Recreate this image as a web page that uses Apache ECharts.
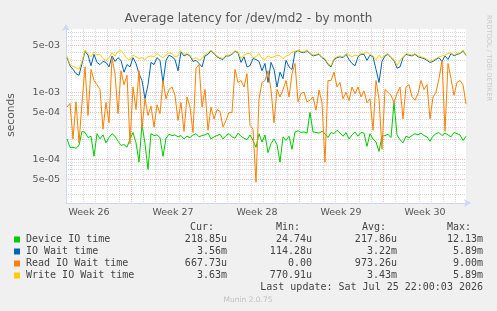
<!DOCTYPE html>
<html>
<head>
<meta charset="utf-8">
<title>Average latency for /dev/md2 - by month</title>
<script src="https://cdn.jsdelivr.net/npm/echarts@6/dist/echarts.min.js"></script>
<style>
  html, body { margin: 0; padding: 0; background: #f0f0f0; }
  #chart { width: 497px; height: 311px; }
</style>
</head>
<body>
<div id="chart"></div>
<script>
// one sample every 6 hours, the last one at the last update
const lastUpdate = Date.UTC(2026, 6, 25, 22, 0, 3);
const stepHours = 6;
const spanHours = 800;

// values in microseconds
const deviceIO = [
  200, 150, 150, 145, 160, 260, 250, 210, 220, 110,
  240, 200, 230, 175, 210, 240, 220, 185, 160, 165,
  150, 200, 250, 175, 90, 330, 170, 70, 240, 225,
  230, 210, 110, 205, 235, 225, 230, 215, 225, 200,
  220, 210, 230, 240, 215, 225, 230, 245, 200, 215,
  225, 235, 200, 225, 240, 215, 205, 245, 220, 205,
  195, 230, 190, 150, 240, 180, 230, 125, 170, 200,
  165, 90, 215, 190, 220, 140, 255, 265, 250, 255,
  245, 500, 255, 250, 245, 260, 240, 210, 250, 240,
  270, 245, 220, 250, 200, 230, 255, 220, 250, 245,
  155, 240, 200, 180, 130, 220, 225, 235, 210, 700,
  230, 195, 175, 220, 210, 225, 240, 230, 245, 225,
  215, 185, 220, 240, 250, 225, 245, 230, 215, 250,
  240, 230, 190, 219
];
const ioWait = [
  3300, 2500, 2200, 1900, 1800, 2700, 4100, 3600, 2500, 3700,
  2800, 2600, 2900, 2800, 2400, 3500, 2900, 3300, 3000, 2000,
  2600, 2400, 3300, 2700, 1900, 1500, 800, 1300, 2800, 2600,
  3300, 3000, 1400, 3000, 3600, 3400, 3100, 2100, 4000, 3500,
  3700, 3500, 2900, 3000, 2700, 2400, 3500, 3700, 4200, 3800,
  3400, 3200, 3100, 3500, 3500, 3700, 4100, 3900, 2800, 3400,
  2400, 2500, 3200, 3100, 2900, 2100, 2700, 1400, 2800, 2200,
  1200, 2000, 1600, 3000, 2400, 2200, 4000, 4200, 4000, 3900,
  4200, 3800, 3500, 3600, 3700, 3300, 3100, 2600, 2400, 3100,
  3300, 3400, 3300, 3700, 3100, 2700, 2500, 3400, 3700, 3700,
  3000, 3600, 3400, 2200, 1400, 2900, 3500, 3700, 3300, 3000,
  2300, 2400, 3300, 3700, 3600, 3500, 3700, 3400, 3300, 3200,
  3000, 2800, 2900, 3100, 3300, 2900, 3500, 3100, 3800, 3500,
  3700, 3800, 4200, 3560
];
const readWait = [
  600, 680, 200, 720, 175, 700, 2400, 450, 2200, 1500,
  1300, 1100, 280, 700, 350, 3300, 1900, 480, 2100, 1300,
  1800, 170, 1200, 550, 2100, 290, 800, 450, 620, 300,
  650, 480, 1500, 800, 1100, 1200, 900, 380, 700, 260,
  850, 600, 250, 2300, 2600, 600, 1100, 270, 600, 400,
  550, 520, 300, 380, 500, 500, 2200, 1400, 1500, 1200,
  1900, 320, 280, 45, 800, 1400, 1500, 2100, 1100, 350,
  1100, 850, 1100, 1500, 850, 1900, 2700, 720, 960, 1000,
  720, 760, 850, 540, 1080, 700, 90, 1500, 1500, 2000,
  1200, 1400, 800, 1000, 750, 1200, 950, 1200, 850, 1050,
  700, 800, 270, 1500, 800, 140, 1100, 1000, 900, 700,
  960, 1200, 400, 1200, 1300, 860, 760, 950, 1500, 1100,
  1300, 400, 850, 1000, 1600, 3000, 260, 2700, 1600, 900,
  1400, 1500, 1300, 668
];
const writeWait = [
  3500, 2600, 2450, 2350, 2200, 2900, 4300, 3800, 3400, 4000,
  3600, 3700, 3200, 3000, 3300, 3900, 3500, 4100, 4200, 3700,
  3200, 3050, 3600, 3400, 3200, 3300, 3100, 3400, 3500, 3400,
  3800, 3500, 3300, 3600, 3900, 3800, 3400, 3500, 4200, 3700,
  3800, 3600, 3100, 3300, 3000, 3200, 3700, 3900, 4300, 3900,
  3500, 3300, 3200, 3600, 3600, 3800, 4200, 4000, 3200, 3600,
  3800, 3800, 3300, 3400, 3800, 3200, 3100, 3500, 3300, 3400,
  3600, 3500, 3200, 3500, 3600, 4000, 4100, 4300, 4100, 4000,
  4300, 3900, 3600, 3700, 3800, 3400, 3200, 2700, 2500, 3200,
  3400, 3500, 3400, 3800, 3600, 3400, 3600, 3500, 3800, 3800,
  4000, 3700, 3500, 3050, 3600, 3200, 3600, 3800, 3400, 3100,
  2500, 3000, 3400, 3800, 3700, 3600, 3800, 3500, 3400, 3300,
  3100, 2900, 3000, 3200, 3400, 3500, 3600, 3800, 3900, 3600,
  3800, 3900, 4300, 3630
];

const seriesNames = ['Device IO time', 'IO Wait time', 'Read IO Wait time', 'Write IO Wait time'];
const seriesColors = ['#00cc00', '#0066b3', '#ff8000', '#ffcc00'];

const statHeaders = ['Cur:', 'Min:', 'Avg:', 'Max:'];
const statRows = [
  ['218.85u', '24.74u', '217.86u', '12.13m'],
  ['3.56m', '114.28u', '3.22m', '5.89m'],
  ['667.73u', '0.00', '973.26u', '9.00m'],
  ['3.63m', '770.91u', '3.43m', '5.89m']
];

const yMin = 2.2e-5;
const yMax = 8.86e-3;
const yTickValues = [5e-5, 1e-4, 5e-4, 1e-3, 5e-3];
const yTickLabels = ['5e-05', '1e-04', '5e-04', '1e-03', '5e-03'];

const weekLabels = ['Week 26', 'Week 27', 'Week 28', 'Week 29', 'Week 30'];
const weekStarts = [
  Date.UTC(2026, 5, 21), Date.UTC(2026, 5, 28), Date.UTC(2026, 6, 5),
  Date.UTC(2026, 6, 12), Date.UTC(2026, 6, 19)
];

const HOUR = 3600000;
const DAY = 24 * HOUR;
const xMax = lastUpdate;
const xMin = lastUpdate - spanHours * HOUR;

function withTime(values) {
  const n = values.length;
  return values.map((v, i) => [lastUpdate - (n - 1 - i) * stepHours * HOUR, v / 1e6]);
}

const weekMids = weekStarts.map(t => t + 3.5 * DAY);
const dayLines = [];
for (let t = Math.ceil(xMin / DAY) * DAY; t <= xMax; t += DAY) {
  if (weekStarts.indexOf(t) < 0) dayLines.push(t);
}
const minorY = [];
[-5, -4, -3].forEach(e => [2, 3, 4, 6, 7, 8, 9].forEach(m => minorY.push(m * Math.pow(10, e))));

const textColor = '#555';
const majorGrid = 'rgba(233, 32, 0, 0.3)';
const minorGrid = 'rgba(140, 140, 140, 0.35)';
const axisColor = '#cfd6f8';
const mono = '10px "DejaVu Sans Mono"';

const chart = echarts.init(document.getElementById('chart'), null, { renderer: 'canvas' });

const graphics = [
  {
    type: 'text', x: 11, y: 115, rotation: Math.PI / 2,
    style: { text: 'seconds', font: '10.7px "DejaVu Sans"', fill: textColor, align: 'center', verticalAlign: 'middle', textAlign: 'center', textVerticalAlign: 'middle' }
  },
  {
    type: 'text', x: 489, y: 58, rotation: -Math.PI / 2,
    style: { text: 'RRDTOOL / TOBI OETIKER', font: '6.7px "DejaVu Sans"', fill: '#c8c8c8', align: 'center', verticalAlign: 'middle', textAlign: 'center', textVerticalAlign: 'middle' }
  },
  {
    type: 'text', x: 248, y: 300,
    style: { text: 'Munin 2.0.75', font: '7.5px "DejaVu Sans"', fill: '#c0c0c0', align: 'center', verticalAlign: 'middle', textAlign: 'center', textVerticalAlign: 'middle' }
  },
  {
    type: 'text', x: 483, y: 287.5,
    style: { text: 'Last update: Sat Jul 25 22:00:03 2026', font: mono, fill: '#444', align: 'right', verticalAlign: 'middle', textAlign: 'right', textVerticalAlign: 'middle' }
  }
];

const headerX = [190, 276, 362, 447];
const valueRight = [227, 312, 397, 483];
const rowY = [239.5, 251.5, 263.5, 275.5];

statHeaders.forEach((h, c) => {
  graphics.push({
    type: 'text', x: headerX[c], y: 227.7,
    style: { text: h, font: mono, fill: '#444', align: 'left', verticalAlign: 'middle', textAlign: 'left', textVerticalAlign: 'middle' }
  });
});

seriesNames.forEach((name, r) => {
  graphics.push({
    type: 'rect', shape: { x: 14, y: rowY[r] - 3, width: 6, height: 6 },
    style: { fill: seriesColors[r] }
  });
  graphics.push({
    type: 'text', x: 26, y: rowY[r],
    style: { text: name, font: mono, fill: '#444', align: 'left', verticalAlign: 'middle', textAlign: 'left', textVerticalAlign: 'middle' }
  });
  statRows[r].forEach((val, c) => {
    graphics.push({
      type: 'text', x: valueRight[c], y: rowY[r],
      style: { text: val, font: mono, fill: '#444', align: 'right', verticalAlign: 'middle', textAlign: 'right', textVerticalAlign: 'middle' }
    });
  });
});

const seriesData = [deviceIO, ioWait, readWait, writeWait];

const option = {
  backgroundColor: '#f0f0f0',
  animation: false,
  title: {
    text: 'Average latency for /dev/md2 - by month',
    left: 'center', top: 13, padding: 0,
    textStyle: { fontFamily: 'DejaVu Sans', fontSize: 12, fontWeight: 'normal', color: textColor }
  },
  grid: { left: 66, top: 29, width: 400, height: 174, show: true, backgroundColor: '#ffffff', borderWidth: 0 },
  xAxis: [
    {
      type: 'value', min: xMin, max: xMax,
      axisLine: { show: true, onZero: false, symbol: ['none', 'arrow'], symbolSize: [6, 7], symbolOffset: [0, 5], lineStyle: { color: axisColor, width: 1 } },
      axisTick: { show: false, customValues: weekStarts },
      axisLabel: {
        customValues: weekMids, margin: 5, color: textColor, fontFamily: 'DejaVu Sans', fontSize: 9.5,
        formatter: function (v) {
          let best = 0;
          weekMids.forEach((m, i) => { if (Math.abs(m - v) < Math.abs(weekMids[best] - v)) best = i; });
          return weekLabels[best];
        }
      },
      splitLine: { show: true, lineStyle: { color: majorGrid, type: 'dotted', width: 1 } }
    },
    {
      type: 'value', min: xMin, max: xMax, position: 'bottom',
      axisLine: { show: false }, axisLabel: { show: false },
      axisTick: { show: false, customValues: dayLines },
      splitLine: { show: true, lineStyle: { color: minorGrid, type: 'dotted', width: 1 } }
    }
  ],
  yAxis: [
    {
      type: 'log', logBase: 10, min: yMin, max: yMax,
      axisLine: { show: true, onZero: false, symbol: ['none', 'arrow'], symbolSize: [6, 7], symbolOffset: [0, 5], lineStyle: { color: axisColor, width: 1 } },
      axisTick: { show: false, customValues: yTickValues },
      axisLabel: {
        customValues: yTickValues, margin: 6, color: textColor, fontFamily: 'DejaVu Sans', fontSize: 9.5,
        formatter: function (v) {
          let best = 0;
          yTickValues.forEach((t, i) => {
            if (Math.abs(Math.log10(t) - Math.log10(v)) < Math.abs(Math.log10(yTickValues[best]) - Math.log10(v))) best = i;
          });
          return yTickLabels[best];
        }
      },
      splitLine: { show: true, lineStyle: { color: majorGrid, type: 'dotted', width: 1 } }
    },
    {
      type: 'log', logBase: 10, min: yMin, max: yMax, position: 'left',
      axisLine: { show: false }, axisLabel: { show: false },
      axisTick: { show: false, customValues: minorY },
      splitLine: { show: true, lineStyle: { color: minorGrid, type: 'dotted', width: 1 } }
    }
  ],
  series: seriesNames.map((name, k) => ({
    name: name,
    type: 'line',
    xAxisIndex: 0,
    yAxisIndex: 0,
    data: withTime(seriesData[k]),
    showSymbol: false,
    symbol: 'none',
    silent: true,
    z: 2 + k,
    lineStyle: { width: 1, color: seriesColors[k] },
    itemStyle: { color: seriesColors[k] }
  })),
  graphic: graphics
};

chart.setOption(option);
</script>
</body>
</html>
